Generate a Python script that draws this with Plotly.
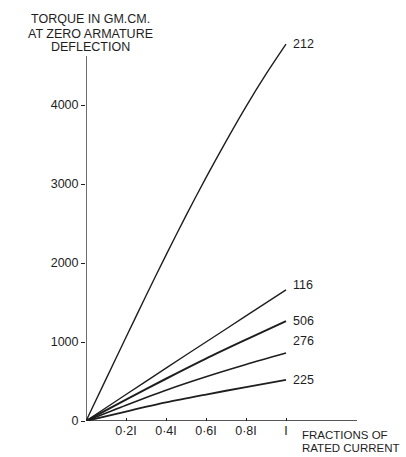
import plotly.graph_objects as go

fractions_212 = [0, 0.1, 0.2, 0.3, 0.4, 0.5, 0.6, 0.7, 0.8, 0.9, 1.0]
torque_212 = [0, 530, 1060, 1585, 2100, 2600, 3080, 3540, 3980, 4390, 4770]
fractions_lin = [0, 0.2, 0.4, 0.6, 0.8, 1.0]
torque_116 = [0, 335, 670, 1000, 1330, 1660]
torque_506 = [0, 270, 535, 790, 1030, 1265]
torque_276 = [0, 200, 390, 560, 715, 860]
torque_225 = [0, 120, 235, 335, 430, 520]

xtick_vals = [0.2, 0.4, 0.6, 0.8, 1.0]
xtick_text = ["0·2I", "0·4I", "0·6I", "0·8I", "I"]
ytick_vals = [0, 1000, 2000, 3000, 4000]
ytick_text = ["0", "1000", "2000", "3000", "4000"]

FONT = "Liberation Sans, Arial, sans-serif"
FS = 12.5
INK = "#1e1e1e"

fig = go.Figure()
series = [
    ("212", fractions_212, torque_212, 1.4, 0),
    ("116", fractions_lin, torque_116, 1.4, 5),
    ("506", fractions_lin, torque_506, 2.0, 0),
    ("276", fractions_lin, torque_276, 1.6, 12),
    ("225", fractions_lin, torque_225, 1.8, 0),
]
for name, xs, ys, w, dy in series:
    fig.add_trace(go.Scatter(x=xs, y=ys, mode="lines",
                             line=dict(color=INK, width=w, shape="spline", smoothing=0.8),
                             showlegend=False, hoverinfo="skip"))
    fig.add_annotation(x=xs[-1], y=ys[-1], text=name, showarrow=False,
                       xanchor="left", yanchor="middle", xshift=5, yshift=dy,
                       font=dict(family=FONT, size=FS, color=INK))

# axis lines
fig.add_shape(type="line", x0=0, x1=0, y0=0, y1=4620, xref="x", yref="y",
              line=dict(color=INK, width=1.3))
fig.add_shape(type="line", x0=0, x1=1.355, y0=0, y1=0, xref="x", yref="y",
              line=dict(color=INK, width=1.3))

# y-axis title (three lines)
y_title = ["TORQUE IN GM.CM.", "AT ZERO ARMATURE", "DEFLECTION"]
y_title_shift = [37, 22, 9]
for txt, sh in zip(y_title, y_title_shift):
    fig.add_annotation(x=0, y=4620, xref="x", yref="y", yshift=sh, xshift=4,
                       text=txt, showarrow=False, xanchor="center", yanchor="middle",
                       font=dict(family=FONT, size=FS, color=INK))

# x-axis title (two lines)
x_title = ["FRACTIONS OF", "RATED CURRENT"]
x_title_shift = [-14, -27]
for txt, sh in zip(x_title, x_title_shift):
    fig.add_annotation(x=1.07, y=0, xref="x", yref="y", yshift=sh,
                       text=txt, showarrow=False, xanchor="left", yanchor="middle",
                       font=dict(family=FONT, size=11.5, color=INK))

fig.update_layout(
    width=406, height=457,
    margin=dict(l=86, r=0, t=20, b=36),
    paper_bgcolor="white", plot_bgcolor="white",
    font=dict(family=FONT, size=FS, color=INK),
    xaxis=dict(range=[0, 1.6], showgrid=False, zeroline=False, showline=False,
               tickvals=xtick_vals, ticktext=xtick_text, ticks="inside",
               ticklen=3, tickcolor=INK, tickfont=dict(family=FONT, size=FS, color=INK)),
    yaxis=dict(range=[0, 5076], showgrid=False, zeroline=False, showline=False,
               tickvals=ytick_vals, ticktext=ytick_text, ticks="outside",
               ticklen=4, tickcolor=INK, tickfont=dict(family=FONT, size=FS, color=INK)),
)

fig.write_html("out.html", config={"displayModeBar": False},
               post_script="document.body.style.margin='0px';")
